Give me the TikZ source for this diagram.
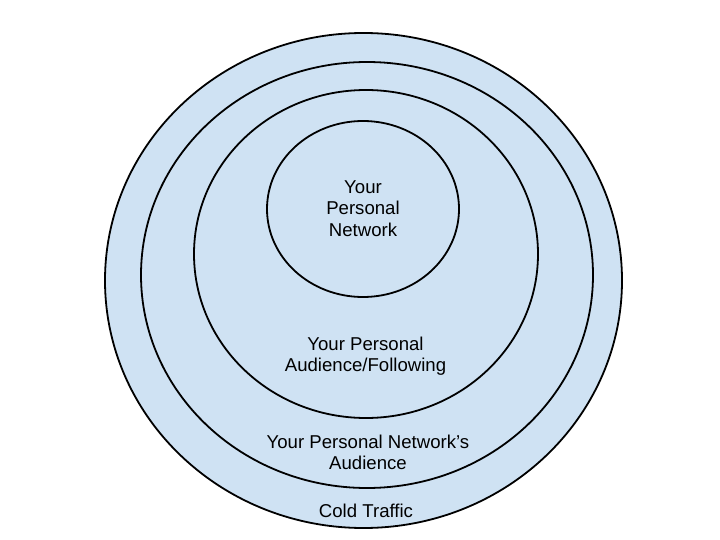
\documentclass[tikz,border=0pt]{standalone}
\usepackage{fontspec}
\setmainfont{Liberation Sans}
\usetikzlibrary{shapes.geometric}
\definecolor{ringblue}{HTML}{CFE2F3}
\begin{document}
\begin{tikzpicture}[
			x=1pt, y=-1pt,
			ring/.style={ellipse,draw=black,fill=ringblue,line width=1.8pt,inner sep=0pt,outer sep=0pt},
			ringtext/.style={align=center,font=\fontsize{18.6}{21.7}\selectfont,inner sep=0pt}
		]
		\useasboundingbox (0,0) rectangle (720,540);
		\node[ring,minimum width=517pt,minimum height=495pt] (cold) at (363.5,280.5) {};
		\node[ring,minimum width=452pt,minimum height=426pt] (reach) at (367,275) {};
		\node[ring,minimum width=344pt,minimum height=328pt] (audience) at (366,254) {};
		\node[ring,minimum width=192pt,minimum height=176pt] (network) at (363,209) {};
		\node[ringtext] (networktext) at (363,208.6) {Your\\Personal\\Network};
		\node[ringtext] (audiencetext) at (365.5,356.2) {Your Personal\\Audience/Following};
		\node[ringtext] (reachtext) at (368,452.3) {Your Personal Network’s\\Audience};
		\node[ringtext] (coldtext) at (366,510.8) {Cold Traffic};
	\end{tikzpicture}
\end{document}
